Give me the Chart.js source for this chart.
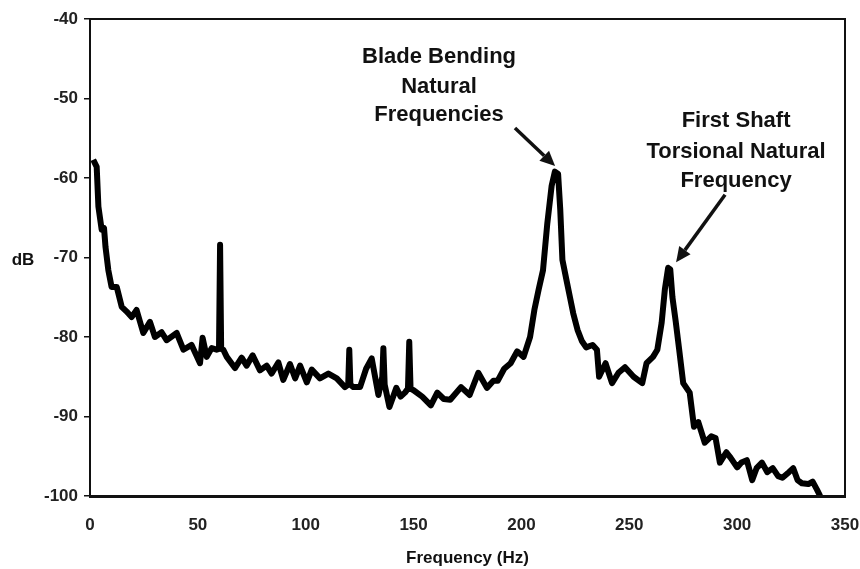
<!DOCTYPE html>
<html>
<head>
<meta charset="utf-8">
<script src="https://cdn.jsdelivr.net/npm/chart.js@4/dist/chart.umd.min.js"></script>
<style>
  html, body { margin: 0; padding: 0; background: #fff; }
  #wrap { width: 860px; height: 569px; }
</style>
</head>
<body>
<div id="wrap"><canvas id="myChart" width="860" height="569"></canvas></div>
<script>
const freqHz = [
  1.5, 3.1, 3.9, 5.4, 6.5, 7.2, 8.5, 10, 12.4, 14.7,
  17, 19.3, 21.6, 24.7, 27.8, 30.1, 33.2, 35.5, 40.2, 43.3,
  47.1, 51, 52.2, 54.1, 56.4, 58.7, 59.8, 60.3, 60.8, 61.8,
  63.4, 67.2, 70.3, 72.6, 75.4, 78.8, 81.9, 84.2, 87.3, 89.6,
  92.7, 95.1, 97.4, 100.5, 102.8, 106.6, 110.5, 114.4, 118.2, 119.7,
  120.2, 120.7, 122.1, 125.2, 128, 130.6, 133.7, 135.5, 136, 136.6,
  138.8, 142, 144, 146, 147.4, 148, 148.6, 150, 154, 158,
  161, 164, 167, 172, 176, 180, 184, 187, 189, 192,
  195, 198, 201, 204, 206, 208, 210, 212, 214, 215.5,
  217, 218, 219, 221, 222.5, 224, 226, 228, 230, 233,
  235, 236, 239, 242, 245, 248, 252, 256, 258, 261,
  263, 265, 266.5, 268, 269, 270, 271.5, 273, 275, 278,
  280, 282, 285, 288, 290, 292, 295, 297, 300, 302,
  304.5, 307, 309, 311.5, 314, 316.5, 319, 321, 324, 326,
  328, 330, 333, 335, 337, 338.5
];

const levelDb = [
  -57.7, -58.6, -63.6, -66.5, -66.3, -68.7, -71.6, -73.7, -73.7, -76.2,
  -76.8, -77.5, -76.6, -79.5, -78.1, -80, -79.4, -80.4, -79.5, -81.6,
  -81, -83.3, -80.1, -82.5, -81.4, -81.6, -81.5, -68.4, -81.5, -81.6,
  -82.5, -83.9, -82.6, -83.6, -82.3, -84.2, -83.6, -84.6, -83.2, -85.4,
  -83.4, -85.2, -83.6, -85.7, -84.1, -85.2, -84.6, -85.2, -86.3, -86,
  -81.6, -86, -86.3, -86.3, -84, -82.7, -87.3, -85, -81.4, -86,
  -88.8, -86.4, -87.5, -87, -86.5, -80.6, -86.5, -86.7, -87.5, -88.6,
  -87, -87.8, -87.9, -86.3, -87.3, -84.5, -86.4, -85.5, -85.5, -84,
  -83.3, -81.8, -82.5, -80, -76.6, -74, -71.6, -65.7, -61, -59.2,
  -59.5, -64, -70.3, -73, -75, -77, -79.1, -80.5, -81.3, -81,
  -81.6, -85, -83.3, -85.8, -84.5, -83.8, -85, -85.8, -83.3, -82.5,
  -81.6, -78.2, -74, -71.3, -71.5, -75, -78, -81.3, -85.8, -87,
  -91.3, -90.7, -93.3, -92.5, -92.7, -95.8, -94.5, -95.2, -96.4, -95.8,
  -95.5, -98, -96.5, -95.8, -97, -96.5, -97.5, -97.7, -97, -96.5,
  -98, -98.4, -98.5, -98.2, -99.2, -100
];

const xTickValues = [0, 50, 100, 150, 200, 250, 300, 350];
const yTickValues = [-100, -90, -80, -70, -60, -50, -40];

const bladeLines = ['Blade Bending', 'Natural', 'Frequencies'];
const shaftLines = ['First Shaft', 'Torsional Natural', 'Frequency'];

const FONT = '"Liberation Sans", Arial, sans-serif';

// frame, horizontal "dB" label, and the two arrow notes
const extras = {
  id: 'extras',
  afterDraw(chart) {
    const { ctx, chartArea: a, scales: { x, y } } = chart;
    ctx.save();
    ctx.strokeStyle = '#111';
    ctx.lineWidth = 2;
    ctx.strokeRect(a.left, a.top, a.right - a.left, a.bottom - a.top);

    ctx.fillStyle = '#111';
    ctx.font = 'bold 17px ' + FONT;
    ctx.textAlign = 'center';
    ctx.textBaseline = 'middle';
    ctx.fillText('dB', 23, 260);

    ctx.font = 'bold 22px ' + FONT;
    ctx.textBaseline = 'alphabetic';
    const bx = x.getPixelForValue(161.8);
    [-45.5, -49.3, -52.8].forEach((v, i) => ctx.fillText(bladeLines[i], bx, y.getPixelForValue(v)));
    const sx = x.getPixelForValue(299.5);
    [-53.6, -57.5, -61.1].forEach((v, i) => ctx.fillText(shaftLines[i], sx, y.getPixelForValue(v)));

    arrow(ctx, x.getPixelForValue(197), y.getPixelForValue(-53.7), x.getPixelForValue(215.6), y.getPixelForValue(-58.5));
    arrow(ctx, x.getPixelForValue(294.4), y.getPixelForValue(-62.1), x.getPixelForValue(271.7), y.getPixelForValue(-70.6));
    ctx.restore();
  }
};

function arrow(ctx, x1, y1, x2, y2) {
  const ang = Math.atan2(y2 - y1, x2 - x1);
  const head = 15, half = 7;
  const bx = x2 - head * Math.cos(ang), by = y2 - head * Math.sin(ang);
  ctx.strokeStyle = '#111';
  ctx.lineWidth = 3.5;
  ctx.beginPath();
  ctx.moveTo(x1, y1);
  ctx.lineTo(bx, by);
  ctx.stroke();
  ctx.beginPath();
  ctx.moveTo(x2, y2);
  ctx.lineTo(bx + half * Math.sin(ang), by - half * Math.cos(ang));
  ctx.lineTo(bx - half * Math.sin(ang), by + half * Math.cos(ang));
  ctx.closePath();
  ctx.fill();
}

const ctx = document.getElementById('myChart').getContext('2d');
const myChart = new Chart(ctx, {
  type: 'line',
  data: {
    datasets: [{
      data: freqHz.map((f, i) => ({ x: f, y: levelDb[i] })),
      borderColor: '#000',
      borderWidth: 6,
      pointRadius: 0,
      tension: 0,
      borderJoinStyle: 'round'
    }]
  },
  options: {
    responsive: false,
    animation: false,
    layout: { padding: { top: 19, right: 0, left: 0, bottom: 0 } },
    plugins: { legend: { display: false }, tooltip: { enabled: false } },
    scales: {
      x: {
        type: 'linear',
        min: 0,
        max: 350,
        afterBuildTicks: s => { s.ticks = xTickValues.map(v => ({ value: v })); },
        afterFit: s => { s.height = 73; s.paddingRight = 15; s.paddingLeft = 0; },
        grid: { display: false, drawTicks: false },
        border: { display: true, color: '#111', width: 3 },
        ticks: { color: '#222', padding: 19, font: { family: FONT, size: 17, weight: 'bold' } },
        title: {
          display: true,
          text: 'Frequency (Hz)',
          color: '#111',
          padding: { top: 0, bottom: 0 },
          font: { family: FONT, size: 17, weight: 'bold' }
        }
      },
      y: {
        min: -100,
        max: -40,
        afterBuildTicks: s => { s.ticks = yTickValues.map(v => ({ value: v })); },
        afterFit: s => { s.width = 90; },
        grid: { drawOnChartArea: false, tickLength: 6, color: '#111', lineWidth: 1.5 },
        border: { display: true, color: '#111', width: 2 },
        ticks: { color: '#222', padding: 6, font: { family: FONT, size: 17, weight: 'bold' } }
      }
    }
  },
  plugins: [extras]
});
</script>
</body>
</html>
